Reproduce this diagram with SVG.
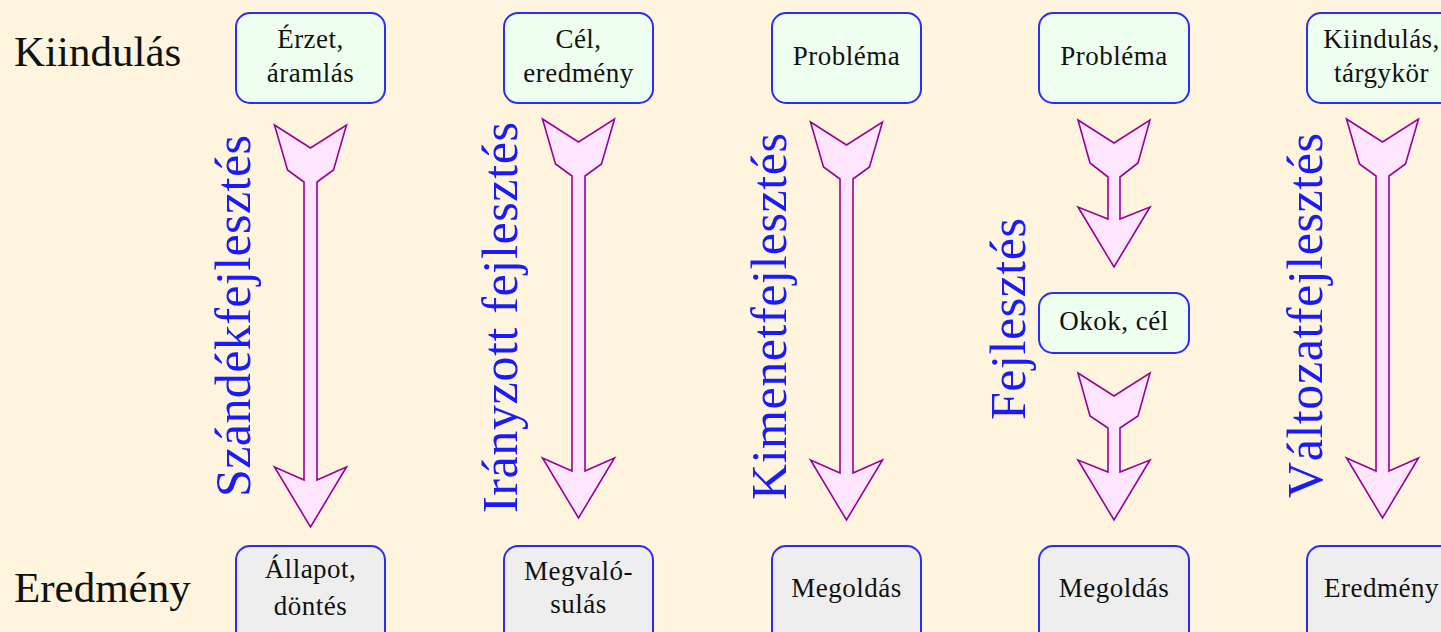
<svg xmlns="http://www.w3.org/2000/svg" width="1441" height="632" viewBox="0 0 1441 632">
<style>
.bg{fill:#FFF5DE}
.top{fill:#EFFFEF;stroke:#2b2bff;stroke-width:2}
.bot{fill:#EEEEEE;stroke:#2b2bff;stroke-width:2}
.t{font-family:"Liberation Serif","Times New Roman",serif;font-size:27px;letter-spacing:0.5px;fill:#111;text-anchor:middle}
.side{font-family:"Liberation Serif","Times New Roman",serif;font-size:43px;fill:#111}
.arr{fill:#FFE6FF;stroke:#990099;stroke-width:1.6;stroke-linejoin:miter}
.lab{font-family:"Liberation Serif","Times New Roman",serif;font-size:50px;fill:#1a1aff}
</style>
<rect class="bg" x="0" y="0" width="1441" height="632"/>
<g id="row-labels">
<text class="side" x="14" y="66">Kiindulás</text>
<text class="side" x="14" y="602">Eredmény</text>
</g>
<g id="connectors">
<path class="arr" d="M274.5,125 L310.5,148 L346.5,125 L333.5,170 L317,182 L317,480 L346.5,467 L310.5,527 L274.5,467 L304,480 L304,182 L287.5,170 Z"/>
<path class="arr" d="M542.5,119 L578.5,142 L614.5,119 L601.5,164 L585,176 L585,471 L614.5,458 L578.5,518 L542.5,458 L572,471 L572,176 L555.5,164 Z"/>
<path class="arr" d="M810.5,122 L846.5,145 L882.5,122 L869.5,167 L853,179 L853,473 L882.5,460 L846.5,520 L810.5,460 L840,473 L840,179 L823.5,167 Z"/>
<path class="arr" d="M1078,120 L1114,143 L1150,120 L1138,163 L1120,177 L1120,219 L1150,207 L1114,267 L1078,207 L1108,219 L1108,177 L1090,163 Z"/>
<path class="arr" d="M1078,373 L1114,396 L1150,373 L1138,416 L1120,428 L1120,472 L1150,460 L1114,520 L1078,460 L1108,472 L1108,428 L1090,416 Z"/>
<path class="arr" d="M1346.5,119 L1382.5,142 L1418.5,119 L1405.5,164 L1389,176 L1389,471 L1418.5,458 L1382.5,518 L1346.5,458 L1376,471 L1376,176 L1359.5,164 Z"/>
<text class="lab" transform="translate(250,497) rotate(-90)" textLength="362" lengthAdjust="spacing">Szándékfejlesztés</text>
<text class="lab" transform="translate(517,513) rotate(-90)" textLength="391" lengthAdjust="spacing">Irányzott fejlesztés</text>
<text class="lab" transform="translate(786,500) rotate(-90)" textLength="367" lengthAdjust="spacing">Kimenetfejlesztés</text>
<text class="lab" transform="translate(1025,420) rotate(-90)" textLength="202" lengthAdjust="spacing">Fejlesztés</text>
<text class="lab" transform="translate(1322,498) rotate(-90)" textLength="365" lengthAdjust="spacing">Változatfejlesztés</text>
</g>
<g id="n1-start"><rect class="top" x="236" y="13" width="149" height="90" rx="14"/><text class="t" x="310.5" y="48">Érzet,</text><text class="t" x="310.5" y="82">áramlás</text></g>
<g id="n2-start"><rect class="top" x="504" y="13" width="149" height="90" rx="14"/><text class="t" x="578.5" y="48">Cél,</text><text class="t" x="578.5" y="82">eredmény</text></g>
<g id="n3-start"><rect class="top" x="772" y="13" width="149" height="90" rx="14"/><text class="t" x="846.5" y="65">Probléma</text></g>
<g id="n4-start"><rect class="top" x="1039" y="13" width="150" height="90" rx="14"/><text class="t" x="1114" y="65">Probléma</text></g>
<g id="n4-mid"><rect class="top" x="1039" y="293" width="150" height="60" rx="14"/><text class="t" x="1114" y="330">Okok, cél</text></g>
<g id="n5-start"><rect class="top" x="1307" y="13" width="149" height="90" rx="14"/><text class="t" x="1381.5" y="48">Kiindulás,</text><text class="t" x="1381.5" y="82">tárgykör</text></g>
<g id="n1-end"><rect class="bot" x="236" y="546" width="149" height="100" rx="14"/><text class="t" x="310.5" y="578">Állapot,</text><text class="t" x="310.5" y="615">döntés</text></g>
<g id="n2-end"><rect class="bot" x="504" y="546" width="149" height="100" rx="14"/><text class="t" x="578.5" y="580">Megvaló-</text><text class="t" x="578.5" y="613">sulás</text></g>
<g id="n3-end"><rect class="bot" x="772" y="546" width="149" height="100" rx="14"/><text class="t" x="846.5" y="597">Megoldás</text></g>
<g id="n4-end"><rect class="bot" x="1039" y="546" width="150" height="100" rx="14"/><text class="t" x="1114" y="597">Megoldás</text></g>
<g id="n5-end"><rect class="bot" x="1307" y="546" width="149" height="100" rx="14"/><text class="t" x="1381.5" y="597">Eredmény</text></g>
</svg>
